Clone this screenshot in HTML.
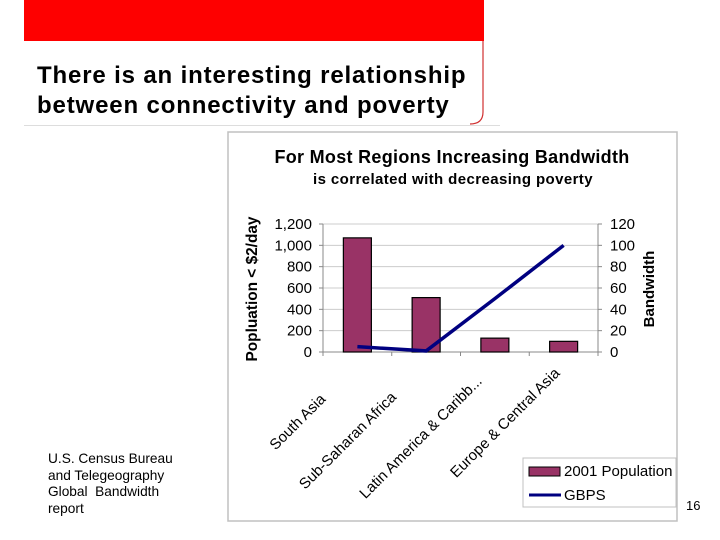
<!DOCTYPE html>
<html><head><meta charset="utf-8"><style>
body{margin:0;width:720px;height:540px;background:#fff;overflow:hidden;position:relative;font-family:"Liberation Sans",Arial,sans-serif}
</style></head><body>
<div style="position:absolute;left:24px;top:0;width:460px;height:41px;background:#fe0000"></div>
<svg style="position:absolute;left:0;top:0" width="720" height="140">
<path d="M483 41 V112 Q483 124 470 124" fill="none" stroke="#d03030" stroke-width="1.2"/>
<line x1="24" y1="125.5" x2="500" y2="125.5" stroke="#ddd" stroke-width="1"/>
</svg>
<div style="position:absolute;left:37px;top:61px;font-size:24px;letter-spacing:0.85px;font-weight:bold;line-height:30px;color:#000;white-space:nowrap">There is an interesting relationship<br>between connectivity and poverty</div>
<div style="position:absolute;left:48px;top:451px;font-size:13.7px;line-height:16.5px;color:#000">U.S. Census Bureau<br>and Telegeography<br>Global&nbsp; Bandwidth<br>report</div>
<div style="position:absolute;left:686px;top:498px;font-size:13px;color:#000">16</div>
<svg id="chart" style="position:absolute;left:0;top:0" width="720" height="540"></svg>
<script>
const categories=["South Asia","Sub-Saharan Africa","Latin America & Caribb...","Europe & Central Asia"];
const population=[1070,510,130,100];
const gbps=[5,1,50,100];
const leftTicks=[0,200,400,600,800,1000,1200];
const leftTickLabels=["0","200","400","600","800","1,000","1,200"];
const rightTicks=[0,20,40,60,80,100,120];
const NS="http://www.w3.org/2000/svg";
const svg=document.getElementById('chart');
function mk(t,a,p){const e=document.createElementNS(NS,t);for(const k in a)e.setAttribute(k,a[k]);(p||svg).appendChild(e);return e;}
const X0=323,X1=598,Y0=352,Y1=224;
const yL=v=>Y0-(v/1200)*(Y0-Y1);
const yR=v=>Y0-(v/120)*(Y0-Y1);
const bw=(X1-X0)/categories.length;
const xc=i=>X0+bw*(i+0.5);
let e;
e=mk('rect',{x:228,y:132,width:449,height:389,fill:'#fff',stroke:'#c0c0c0','stroke-width':1.5});


e=mk('text',{x:452,y:163,'text-anchor':'middle','font-size':18,'letter-spacing':0.3,'font-weight':'bold',fill:'#000'});e.textContent='For Most Regions Increasing Bandwidth';


e=mk('text',{x:453,y:184,'text-anchor':'middle','font-size':15,'letter-spacing':0.4,'font-weight':'bold',fill:'#000'});e.textContent='is correlated with decreasing poverty';


leftTicks.forEach((v,i)=>{
 const y=yL(v);
 if(v>0){e=mk('line',{x1:X0,x2:X1,y1:y,y2:y,stroke:'#cccccc','stroke-width':1});
 
 }
 e=mk('line',{x1:X0-4,x2:X0,y1:y,y2:y,stroke:'#888'});
 e=mk('text',{x:X0-11,y:y+5,'text-anchor':'end','font-size':15,fill:'#000'});e.textContent=leftTickLabels[i];
 
 
});
rightTicks.forEach(v=>{
 const y=yR(v);
 mk('line',{x1:X1,x2:X1+4,y1:y,y2:y,stroke:'#888'});
 e=mk('text',{x:X1+12,y:y+5,'text-anchor':'start','font-size':15,fill:'#000'});e.textContent=String(v);
 
 
});
mk('line',{x1:X0,x2:X0,y1:Y1,y2:Y0,stroke:'#888'});
mk('line',{x1:X1,x2:X1,y1:Y1,y2:Y0,stroke:'#888'});
mk('line',{x1:X0,x2:X1,y1:Y0,y2:Y0,stroke:'#888'});
for(let i=0;i<=categories.length;i++)mk('line',{x1:X0+bw*i,x2:X0+bw*i,y1:Y0,y2:Y0+4,stroke:'#888'});
population.forEach((v,i)=>{
 e=mk('rect',{x:xc(i)-14,y:yL(v),width:28,height:Y0-yL(v),fill:'#993366',stroke:'#000','stroke-width':1.2});
 
 
});
e=mk('polyline',{points:gbps.map((v,i)=>xc(i)+','+yR(v)).join(' '),fill:'none',stroke:'#000080','stroke-width':3.5});


const labelOff=[[-31,48],[-29,46],[-12,30],[-3,22]];
categories.forEach((c,i)=>{
 const x=xc(i)+labelOff[i][0],y=Y0+labelOff[i][1];
 e=mk('text',{x:x,y:y,'text-anchor':'end','font-size':15,fill:'#000',transform:`rotate(-45 ${x} ${y})`});e.textContent=c;
 
 
});
e=mk('text',{x:0,y:0,'text-anchor':'middle','font-size':15.4,'font-weight':'bold',fill:'#000',transform:'translate(257 289) rotate(-90)'});e.textContent='Popluation < $2/day';


e=mk('text',{x:0,y:0,'text-anchor':'middle','font-size':15,'font-weight':'bold',fill:'#000',transform:'translate(654 289) rotate(-90)'});e.textContent='Bandwidth';


e=mk('rect',{x:523,y:458,width:153,height:49,fill:'#fff',stroke:'#c0c0c0'});


e=mk('rect',{x:529,y:467,width:31,height:9,fill:'#993366',stroke:'#000'});


e=mk('text',{x:564,y:476,'font-size':15,fill:'#000'});e.textContent='2001 Population';


e=mk('line',{x1:529,x2:561,y1:495,y2:495,stroke:'#000080','stroke-width':3});


e=mk('text',{x:564,y:500,'font-size':15,fill:'#000'});e.textContent='GBPS';


</script>
</body></html>
